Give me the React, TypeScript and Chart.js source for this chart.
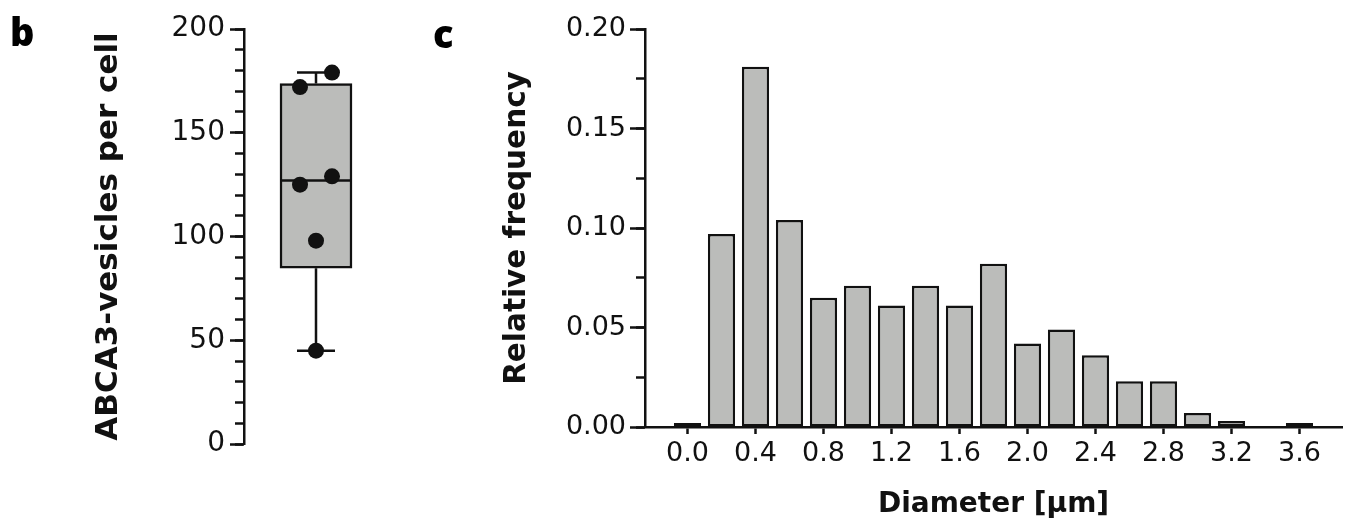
import React, { useEffect, useRef } from 'react';
import { Chart, registerables } from 'chart.js';

Chart.register(...registerables);

// ---- Panel b: ABCA3-vesicles per cell (box plot with points) ----
const vesiclesPerCell = [45, 98, 125, 129, 172, 179];
const vesicleColumn = [0, 0, -1, 1, -1, 1];
const vesicleTicks = [0, 50, 100, 150, 200];

// ---- Panel c: diameter histogram ----
const diameterBins = [0.0, 0.2, 0.4, 0.6, 0.8, 1.0, 1.2, 1.4, 1.6, 1.8, 2.0, 2.2, 2.4, 2.6, 2.8, 3.0, 3.2, 3.4, 3.6];
const relativeFrequency = [0.002, 0.097, 0.181, 0.104, 0.065, 0.071, 0.061, 0.071, 0.061, 0.082, 0.042, 0.049, 0.036, 0.023, 0.023, 0.007, 0.003, 0.0005, 0.002];
const diameterTicks = [0.0, 0.4, 0.8, 1.2, 1.6, 2.0, 2.4, 2.8, 3.2, 3.6];
const frequencyTicks = [0, 0.05, 0.1, 0.15, 0.2];

const GRAY = '#bbbcba';
const DARK = '#111111';
const TICK_FONT = 'DejaVu Sans';

function quantile(sorted: number[], p: number): number {
  const n = sorted.length;
  const r = p * (n + 1);
  const lo = Math.floor(r);
  const f = r - lo;
  if (lo < 1) return sorted[0];
  if (lo >= n) return sorted[n - 1];
  return sorted[lo - 1] + f * (sorted[lo] - sorted[lo - 1]);
}

const sortedVesicles = [...vesiclesPerCell].sort((a, b) => a - b);
const boxMin = sortedVesicles[0];
const boxMax = sortedVesicles[sortedVesicles.length - 1];
const boxQ1 = quantile(sortedVesicles, 0.25);
const boxMedian = quantile(sortedVesicles, 0.5);
const boxQ3 = quantile(sortedVesicles, 0.75);

const whiskerPlugin = {
  id: 'whiskers',
  beforeDatasetsDraw(chart: any) {
    const meta = chart.getDatasetMeta(1);
    const bar = meta.data[0];
    if (!bar) return;
    const y = chart.scales.y;
    const ctx = chart.ctx;
    const cx = bar.x;
    const capHalf = 19;
    ctx.save();
    ctx.strokeStyle = DARK;
    ctx.lineWidth = 2.5;
    ctx.beginPath();
    ctx.moveTo(cx, y.getPixelForValue(boxMax));
    ctx.lineTo(cx, y.getPixelForValue(boxQ3));
    ctx.moveTo(cx, y.getPixelForValue(boxQ1));
    ctx.lineTo(cx, y.getPixelForValue(boxMin));
    ctx.moveTo(cx - capHalf, y.getPixelForValue(boxMax));
    ctx.lineTo(cx + capHalf, y.getPixelForValue(boxMax));
    ctx.moveTo(cx - capHalf, y.getPixelForValue(boxMin));
    ctx.lineTo(cx + capHalf, y.getPixelForValue(boxMin));
    ctx.stroke();
    ctx.restore();
  },
  afterDatasetDraw(chart: any, args: any) {
    if (args.index !== 1) return;
    const bar = args.meta.data[0];
    if (!bar) return;
    const y = chart.scales.y;
    const ctx = chart.ctx;
    const half = bar.width / 2;
    const py = y.getPixelForValue(boxMedian);
    ctx.save();
    ctx.strokeStyle = DARK;
    ctx.lineWidth = 2.5;
    ctx.beginPath();
    ctx.moveTo(bar.x - half, py);
    ctx.lineTo(bar.x + half, py);
    ctx.stroke();
    ctx.restore();
  },
};

function boxConfig(): any {
  return {
    type: 'bar',
    data: {
      datasets: [
        {
          type: 'scatter',
          data: vesiclesPerCell.map((v, i) => ({ x: vesicleColumn[i], y: v })),
          pointRadius: 8,
          pointBackgroundColor: DARK,
          pointBorderColor: DARK,
          pointBorderWidth: 0,
          order: 0,
        },
        {
          type: 'bar',
          data: [{ x: 0, y: [boxQ1, boxQ3] }],
          backgroundColor: GRAY,
          borderColor: DARK,
          borderWidth: 2.5,
          borderSkipped: false,
          barThickness: 72,
          order: 1,
        },
      ],
    },
    options: {
      responsive: false,
      animation: false,
      layout: { padding: { left: 0, right: 12, top: 29, bottom: 85 } },
      plugins: { legend: { display: false }, tooltip: { enabled: false } },
      scales: {
        x: { type: 'linear', display: false, min: -4.5, max: 4.5, offset: false, grid: { offset: false } },
        y: {
          type: 'linear',
          position: 'left',
          weight: 1,
          min: 0,
          max: 200,
          afterFit: (s: any) => { s.width = 244; },
          afterBuildTicks: (s: any) => { s.ticks = vesicleTicks.map((v) => ({ value: v })); },
          ticks: { font: { family: TICK_FONT, size: 28 }, color: DARK, padding: 5, autoSkip: false },
          grid: { drawOnChartArea: false, tickLength: 14, tickWidth: 2.5, tickColor: DARK },
          border: { width: 2.5, color: DARK },
          title: {
            display: true,
            text: 'ABCA3-vesicles per cell',
            color: DARK,
            font: { family: TICK_FONT, size: 31, weight: 'bold' },
            padding: { top: 90, bottom: 0 },
          },
        },
        yMinor: {
          type: 'linear',
          position: 'left',
          weight: 0,
          min: 0,
          max: 200,
          afterFit: (s: any) => { s.width = 0; },
          ticks: { display: false, stepSize: 10 },
          grid: { drawOnChartArea: false, tickLength: 9, tickWidth: 2.5, tickColor: DARK },
          border: { display: false },
        },
      },
    },
    plugins: [whiskerPlugin],
  };
}

function histConfig(): any {
  return {
    type: 'bar',
    data: {
      datasets: [
        {
          data: diameterBins.map((b, i) => ({ x: b, y: relativeFrequency[i] })),
          backgroundColor: GRAY,
          borderColor: DARK,
          borderWidth: 2.5,
          borderSkipped: false,
          barPercentage: 0.8,
          categoryPercentage: 1,
        },
      ],
    },
    options: {
      responsive: false,
      animation: false,
      layout: { padding: { left: 0, right: 9, top: 29, bottom: 0 } },
      plugins: { legend: { display: false }, tooltip: { enabled: false } },
      scales: {
        x: {
          type: 'linear',
          min: -0.25,
          max: 3.85,
          offset: false,
          afterBuildTicks: (s: any) => { s.ticks = diameterTicks.map((v) => ({ value: v })); },
          afterFit: (s: any) => { s.height = 102; },
          ticks: {
            callback: (v: any) => Number(v).toFixed(1),
            font: { family: TICK_FONT, size: 27 },
            color: DARK,
            padding: 4,
            autoSkip: false,
            maxRotation: 0,
          },
          grid: { drawOnChartArea: false, offset: false, tickLength: 7, tickWidth: 2.5, tickColor: DARK },
          border: { width: 2.5, color: DARK },
          title: {
            display: true,
            text: 'Diameter [µm]',
            color: DARK,
            font: { family: TICK_FONT, size: 28, weight: 'bold' },
            padding: { top: 0, bottom: 7 },
          },
        },
        y: {
          type: 'linear',
          position: 'left',
          weight: 1,
          min: 0,
          max: 0.2,
          afterFit: (s: any) => { s.width = 245; },
          afterBuildTicks: (s: any) => { s.ticks = frequencyTicks.map((v) => ({ value: v })); },
          ticks: {
            callback: (v: any) => Number(v).toFixed(2),
            font: { family: TICK_FONT, size: 27 },
            color: DARK,
            padding: 4,
            autoSkip: false,
          },
          grid: { drawOnChartArea: false, tickLength: 15, tickWidth: 2.5, tickColor: DARK },
          border: { width: 2.5, color: DARK },
          title: {
            display: true,
            text: 'Relative frequency',
            color: DARK,
            font: { family: TICK_FONT, size: 29.5, weight: 'bold' },
            padding: { top: 100, bottom: 0 },
          },
        },
        yMinor: {
          type: 'linear',
          position: 'left',
          weight: 0,
          min: 0,
          max: 0.2,
          afterFit: (s: any) => { s.width = 0; },
          ticks: { display: false, stepSize: 0.025 },
          grid: { drawOnChartArea: false, tickLength: 9, tickWidth: 2.5, tickColor: DARK },
          border: { display: false },
        },
      },
    },
  };
}

export default function App() {
  const boxRef = useRef<HTMLCanvasElement>(null);
  const histRef = useRef<HTMLCanvasElement>(null);

  useEffect(() => {
    const c1 = new Chart(boxRef.current as HTMLCanvasElement, boxConfig());
    const c2 = new Chart(histRef.current as HTMLCanvasElement, histConfig());
    return () => {
      c1.destroy();
      c2.destroy();
    };
  }, []);

  const panelLabel: React.CSSProperties = {
    position: 'absolute',
    fontFamily: '"Open Sans", sans-serif',
    fontWeight: 800,
    fontSize: 38,
    lineHeight: '38px',
    color: '#000',
  };

  return (
    <div style={{ position: 'absolute', left: 0, top: 0, width: 1351, height: 529, background: '#fff', overflow: 'hidden' }}>
      <canvas ref={boxRef} width={400} height={529} style={{ position: 'absolute', left: 0, top: 0 }} />
      <canvas ref={histRef} width={951} height={529} style={{ position: 'absolute', left: 400, top: 0 }} />
      <div style={{ ...panelLabel, left: 10, top: 12 }}>b</div>
      <div style={{ ...panelLabel, left: 433, top: 14 }}>c</div>
    </div>
  );
}
